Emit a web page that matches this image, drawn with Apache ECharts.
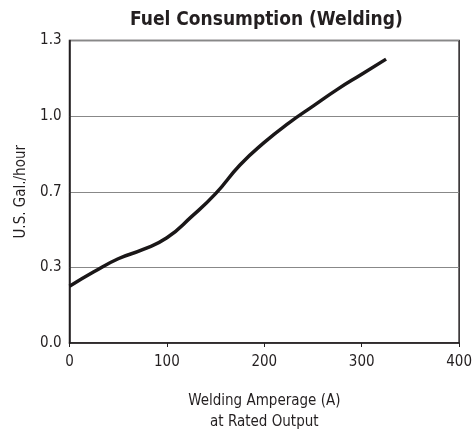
<!DOCTYPE html>
<html>
<head>
<meta charset="utf-8">
<script src="https://cdn.jsdelivr.net/npm/echarts@6/dist/echarts.min.js"></script>
<style>html,body{margin:0;padding:0;background:#fff}#c{width:475px;height:438px}</style>
</head>
<body>
<div id="c"></div>
<script>
var amperage = [0, 25, 50, 75, 100, 125, 150, 175, 200, 225, 250, 275, 300, 325];
var gallons = [0.244, 0.306, 0.362, 0.401, 0.452, 0.542, 0.642, 0.765, 0.862, 0.945, 1.018, 1.09, 1.155, 1.22];
var yTickLabels = ['0.0', '0.3', '0.7', '1.0', '1.3'];
var xTickLabels = ['0', '100', '200', '300', '400'];

var FONT = "'Liberation Sans Narrow', 'DejaVu Sans Condensed', sans-serif";
var chart = echarts.init(document.getElementById('c'), null, {renderer: 'canvas'});
chart.setOption({
  animation: false,
  backgroundColor: '#fff',
  title: {
    text: 'Fuel Consumption (Welding)',
    left: 125, top: 6,
    textStyle: {fontFamily: FONT, fontSize: 19, fontWeight: 'bold', color: '#231f20'}
  },
  grid: {left: 69.5, right: 12.5, top: 40.5, bottom: 93, show: true, borderColor: '#231f20', borderWidth: 1.5, backgroundColor: 'transparent'},
  xAxis: {
    type: 'value', min: 0, max: 400, interval: 100,
    name: 'Welding Amperage (A)\nat Rated Output',
    nameLocation: 'middle', nameGap: 48,
    nameTextStyle: {fontFamily: FONT, fontSize: 15, color: '#231f20', lineHeight: 21},
    axisLine: {show: true, lineStyle: {color: '#231f20', width: 1.5}},
    axisTick: {show: true, length: 4, lineStyle: {color: '#231f20', width: 1}},
    splitLine: {show: false},
    axisLabel: {fontFamily: FONT, fontSize: 15, color: '#231f20', margin: 12,
      formatter: function (v) { return xTickLabels[Math.round(v / 100)]; }}
  },
  yAxis: {
    type: 'value', min: 0, max: 1.3, interval: 0.325,
    name: 'U.S. Gal./hour',
    nameLocation: 'middle', nameGap: 41,
    nameTextStyle: {fontFamily: FONT, fontSize: 15, color: '#231f20'},
    axisLine: {show: true, lineStyle: {color: '#231f20', width: 1.5}},
    axisTick: {show: false},
    splitLine: {show: true, lineStyle: {color: '#888', width: 1}},
    axisLabel: {fontFamily: FONT, fontSize: 15, color: '#231f20', margin: 8,
      formatter: function (v) { return yTickLabels[Math.round(v / 0.325)]; }}
  },
  series: [{
    type: 'line',
    data: amperage.map(function (a, i) { return [a, gallons[i]]; }),
    smooth: true,
    showSymbol: false,
    lineStyle: {color: '#1a1718', width: 3.5}
  }]
});
</script>
</body>
</html>
